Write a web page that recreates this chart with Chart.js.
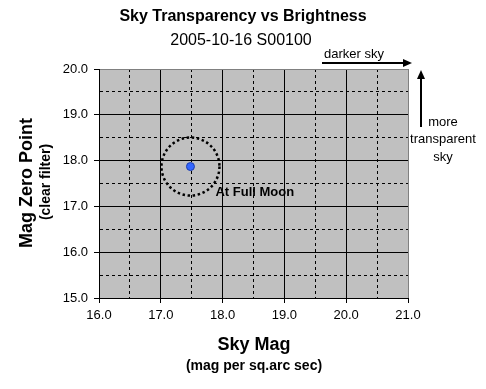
<!DOCTYPE html>
<html>
<head>
<meta charset="utf-8">
<script src="https://cdn.jsdelivr.net/npm/chart.js@4"></script>
<style>
  html, body { margin: 0; padding: 0; background: #fff; }
  #wrap { width: 486px; height: 389px; }
</style>
</head>
<body>
<div id="wrap"><canvas id="chart"></canvas></div>
<script>
// data
var skyMag = [17.48];
var zeroPoint = [17.87];
var xRange = [16, 21];
var yRange = [15, 20];

var FONT = "Arial, 'Liberation Sans', sans-serif";

function isMinor(ctx) {
    return ctx.tick && Math.abs(ctx.tick.value % 1) > 0.01;
}
function majorLabel(v) {
    return Math.abs(v % 1) < 0.01 ? Number(v).toFixed(1) : "";
}

function arrow(ctx, x1, y1, x2, y2) {
    var ang = Math.atan2(y2 - y1, x2 - x1);
    var hl = 9, hw = 4;
    ctx.beginPath();
    ctx.moveTo(x1, y1);
    ctx.lineTo(x2 - hl * Math.cos(ang), y2 - hl * Math.sin(ang));
    ctx.lineWidth = 2;
    ctx.strokeStyle = "#000";
    ctx.stroke();
    ctx.beginPath();
    ctx.moveTo(x2, y2);
    ctx.lineTo(x2 - hl * Math.cos(ang) - hw * Math.sin(ang), y2 - hl * Math.sin(ang) + hw * Math.cos(ang));
    ctx.lineTo(x2 - hl * Math.cos(ang) + hw * Math.sin(ang), y2 - hl * Math.sin(ang) - hw * Math.cos(ang));
    ctx.closePath();
    ctx.fillStyle = "#000";
    ctx.fill();
}

const decor = {
    id: "decor",
    beforeDraw(chart) {
        const ctx = chart.ctx, a = chart.chartArea;
        ctx.save();
        ctx.fillStyle = "#c0c0c0";
        ctx.fillRect(a.left, a.top, a.right - a.left, a.bottom - a.top);
        ctx.restore();
    },
    afterDatasetsDraw(chart) {
        const ctx = chart.ctx;
        const px = chart.scales.x.getPixelForValue(skyMag[0]);
        const py = chart.scales.y.getPixelForValue(zeroPoint[0]);
        ctx.save();
        // dotted ring round the full moon point
        ctx.beginPath();
        ctx.arc(px, py, 29, 0, Math.PI * 2);
        ctx.setLineDash([2.5, 2.6]);
        ctx.lineWidth = 2.5;
        ctx.strokeStyle = "#000";
        ctx.stroke();
        ctx.setLineDash([]);
        ctx.restore();
    },
    afterDraw(chart) {
        const ctx = chart.ctx;
        const px = chart.scales.x.getPixelForValue(skyMag[0]);
        const py = chart.scales.y.getPixelForValue(zeroPoint[0]);
        ctx.save();
        ctx.fillStyle = "#000";
        ctx.textBaseline = "middle";
        ctx.textAlign = "center";

        ctx.font = "bold 16px " + FONT;
        ctx.fillText("Sky Transparency vs Brightness", 243, 17);
        ctx.font = "16px " + FONT;
        ctx.fillText("2005-10-16 S00100", 241, 41);

        ctx.font = "bold 18px " + FONT;
        ctx.fillText("Sky Mag", 254, 345);
        ctx.font = "bold 14px " + FONT;
        ctx.fillText("(mag per sq.arc sec)", 254, 366);

        ctx.save();
        ctx.translate(27, 183);
        ctx.rotate(-Math.PI / 2);
        ctx.font = "bold 18px " + FONT;
        ctx.fillText("Mag Zero Point", 0, 0);
        ctx.restore();
        ctx.save();
        ctx.translate(46, 182);
        ctx.rotate(-Math.PI / 2);
        ctx.font = "bold 14px " + FONT;
        ctx.fillText("(clear filter)", 0, 0);
        ctx.restore();

        ctx.textAlign = "left";
        ctx.font = "bold 13px " + FONT;
        ctx.fillText("At Full Moon", px + 25, py + 26);

        ctx.font = "13px " + FONT;
        ctx.fillText("darker sky", 324, 54);
        ctx.textAlign = "center";
        ctx.fillText("more", 443, 122);
        ctx.fillText("transparent", 443, 139);
        ctx.fillText("sky", 443, 157);

        arrow(ctx, 322, 63, 412, 63);
        arrow(ctx, 421, 127, 421, 70);
        ctx.restore();
    }
};

function gridOpts(maxVal) {
    return {
        // the far edge of the plot is a grey frame line in the original
        color: (c) => c.tick && Math.abs(c.tick.value - maxVal) < 0.01 ? "#808080" : "#000",
        lineWidth: 1,
        tickLength: 5,
        tickColor: (c) => isMinor(c) ? "rgba(0,0,0,0)" : "#000",
    };
}
const borderOpts = {
    color: "#000",
    width: 1,
    dash: (c) => isMinor(c) ? [3, 3] : [],
};

new Chart(document.getElementById("chart"), {
    type: "scatter",
    data: {
        datasets: [{
            label: "Full Moon",
            data: skyMag.map((v, i) => ({x: v, y: zeroPoint[i]})),
            backgroundColor: "#3366ff",
            borderColor: "#1a3cb0",
            borderWidth: 1,
            pointRadius: 4,
        }]
    },
    options: {
        responsive: true,
        maintainAspectRatio: false,
        animation: false,
        layout: {padding: {top: 69, right: 78, bottom: 0, left: 0}},
        plugins: {
            legend: {display: false},
            tooltip: {enabled: false},
        },
        scales: {
            x: {
                type: "linear",
                min: xRange[0],
                max: xRange[1],
                afterFit(s) { s.height = 91; },
                ticks: {
                    stepSize: 0.5,
                    autoSkip: false,
                    maxRotation: 0,
                    padding: 5,
                    color: "#000",
                    font: {family: FONT, size: 13},
                    callback: majorLabel,
                },
                grid: gridOpts(xRange[1]),
                border: borderOpts,
            },
            y: {
                type: "linear",
                min: yRange[0],
                max: yRange[1],
                afterFit(s) { s.width = 99; },
                ticks: {
                    stepSize: 0.5,
                    autoSkip: false,
                    padding: 6,
                    color: "#000",
                    font: {family: FONT, size: 13},
                    callback: majorLabel,
                },
                grid: gridOpts(yRange[1]),
                border: borderOpts,
            }
        }
    },
    plugins: [decor]
});
</script>
</body>
</html>
